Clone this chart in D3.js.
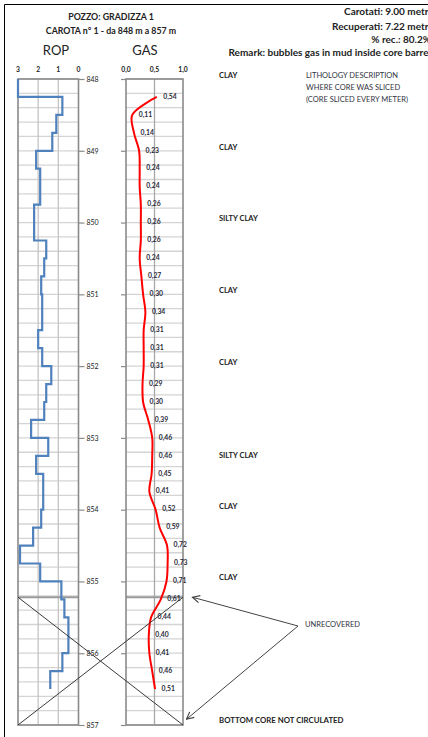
<!DOCTYPE html>
<html>
<head>
<meta charset="utf-8">
<script src="https://cdn.jsdelivr.net/npm/d3@7/dist/d3.min.js"></script>
<style>
  html, body { margin: 0; padding: 0; background: #fff; }
  svg { display: block; font-family: Lato, "Open Sans", sans-serif; }
</style>
</head>
<body>
<svg id="chart" width="428" height="737"></svg>
<script>
// Core run
const well = "GRADIZZA 1";
const coreNo = 1;
const coreTop = 848;
const coreBottom = 857;
const recovered = 7.22;

// ROP (rate of penetration): one value per 0.25 m interval starting at the listed depth
const ropDepths = [848.00, 848.25, 848.50, 848.75, 849.00, 849.25, 849.50, 849.75,
  850.00, 850.25, 850.50, 850.75, 851.00, 851.25, 851.50, 851.75,
  852.00, 852.25, 852.50, 852.75, 853.00, 853.25, 853.50, 853.75,
  854.00, 854.25, 854.50, 854.75, 855.00, 855.25, 855.50, 855.75,
  856.00, 856.25];
const ropValues = [3.0, 0.8, 1.1, 1.3, 2.1, 1.9, 1.9, 2.2,
  2.2, 1.6, 1.7, 1.85, 1.8, 1.8, 2.0, 1.8,
  1.35, 1.6, 1.7, 2.35, 1.5, 2.1, 1.75, 1.75,
  1.85, 2.25, 2.9, 1.9, 0.85, 0.7, 0.5, 0.5,
  0.8, 1.4];
const ropStep = 0.25;

// Total gas readings
const gasDepths = [848.25, 848.50, 848.75, 849.00, 849.25, 849.50, 849.75,
  850.00, 850.25, 850.50, 850.75, 851.00, 851.25, 851.50, 851.75,
  852.00, 852.25, 852.50, 852.75, 853.00, 853.25, 853.50, 853.75,
  854.00, 854.25, 854.50, 854.75, 855.00, 855.25, 855.50, 855.75,
  856.00, 856.25, 856.50];
const gasValues = [0.54, 0.11, 0.14, 0.23, 0.24, 0.24, 0.26,
  0.26, 0.26, 0.24, 0.27, 0.30, 0.34, 0.31, 0.31,
  0.31, 0.29, 0.30, 0.39, 0.46, 0.46, 0.45, 0.41,
  0.52, 0.59, 0.72, 0.73, 0.71, 0.61, 0.44, 0.40,
  0.41, 0.46, 0.51];

// Axis ticks
const ropTicks = [3, 2, 1, 0];
const gasTicks = [0, 0.5, 1];
const depthTicks = [848, 849, 850, 851, 852, 853, 854, 855, 856, 857];

// Lithology where the core was sliced
const lithoDepths = [848, 849, 850, 851, 852, 853.3, 854, 855];
const lithoNames = ["CLAY", "CLAY", "SILTY CLAY", "CLAY", "CLAY", "SILTY CLAY", "CLAY", "CLAY"];

const itLocale = d3.formatLocale({ decimal: ",", thousands: ".", grouping: [3], currency: ["", " €"] });
const fmt1 = itLocale.format(".1f");
const fmt2 = itLocale.format(".2f");
const fmtPct = d3.format(".1f");
const fmtM = d3.format(".2f");

const svg = d3.select("#chart");
const ink = "#222";

// page frame
svg.append("path").attr("d", "M4.5,737 V4.5 H428").attr("fill", "none").attr("stroke", "#000").attr("stroke-width", 1);

// scales
const y = d3.scaleLinear().domain([coreTop, coreBottom]).range([79, 725]);
const xRop = d3.scaleLinear().domain([3, 0]).range([18, 78.5]);
const xGas = d3.scaleLinear().domain([0, 1]).range([126, 183]);

const gridDepths = d3.range(0, 46).map(i => coreTop + i * 0.2);
const recBase = coreTop + recovered;

function panel(x, ticks, gridColor) {
  const g = svg.append("g");
  const [x0, x1] = x.range().slice().sort((a, b) => a - b);
  g.selectAll("line.h").data(gridDepths).join("line")
    .attr("x1", x0).attr("x2", x1)
    .attr("y1", d => y(d)).attr("y2", d => y(d))
    .attr("stroke", "#d4d4d4").attr("stroke-width", 1.3);
  g.selectAll("line.v").data(ticks.slice(1, -1)).join("line")
    .attr("x1", d => x(d)).attr("x2", d => x(d))
    .attr("y1", y(coreTop)).attr("y2", y(coreBottom))
    .attr("stroke", gridColor).attr("stroke-width", 1.3);
  // recovery boundary
  g.append("line").attr("x1", x0).attr("x2", x1)
    .attr("y1", y(recBase)).attr("y2", y(recBase))
    .attr("stroke", "#9a9a9a").attr("stroke-width", 2);
  g.append("rect").attr("x", x0).attr("y", y(coreTop))
    .attr("width", x1 - x0).attr("height", y(coreBottom) - y(coreTop))
    .attr("fill", "none").attr("stroke", "#8a8a8a").attr("stroke-width", 1.6);
  // top scale labels
  g.selectAll("text.t").data(ticks).join("text")
    .attr("x", d => x(d)).attr("y", 70)
    .attr("text-anchor", "middle").attr("dominant-baseline", "middle")
    .attr("font-size", 6.8).attr("font-weight", 700).attr("fill", ink)
    .text(d => x === xRop ? d3.format("d")(d) : fmt1(d));
  return g;
}

panel(xRop, ropTicks, "#c4c4c4");
panel(xGas, gasTicks, "#a8a8a8");

// depth axis between the two tracks
const depthAxis = d3.axisRight(y).tickValues(depthTicks).tickSize(6).tickPadding(2).tickFormat(d3.format("d"));
const ga = svg.append("g").attr("transform", "translate(78.5,0)").call(depthAxis);
ga.select(".domain").remove();
ga.selectAll(".tick line").attr("stroke", "#8a8a8a").attr("stroke-width", 1.2);
ga.selectAll(".tick text").attr("font-size", 7).attr("fill", ink).attr("font-family", "Lato, sans-serif");

const gasAxis = d3.axisLeft(y).tickValues(depthTicks).tickSize(5).tickFormat("");
const gg = svg.append("g").attr("transform", "translate(126,0)").call(gasAxis);
gg.select(".domain").remove();
gg.selectAll(".tick line").attr("stroke", "#8a8a8a").attr("stroke-width", 1.2);

// ROP step log
const ropPts = [];
ropDepths.forEach((d, i) => {
  ropPts.push([ropValues[i], d]);
  ropPts.push([ropValues[i], d + ropStep]);
});
svg.append("path")
  .datum(ropPts)
  .attr("d", d3.line().x(p => xRop(p[0])).y(p => y(p[1])))
  .attr("fill", "none").attr("stroke", "#4f81bd").attr("stroke-width", 2.2)
  .attr("stroke-linejoin", "miter");

// Gas curve
const gasPts = gasDepths.map((d, i) => [gasValues[i], d]);
svg.append("path")
  .datum(gasPts)
  .attr("d", d3.line().curve(d3.curveCatmullRom.alpha(0.5)).x(p => xGas(p[0])).y(p => y(p[1])))
  .attr("fill", "none").attr("stroke", "#ff0000").attr("stroke-width", 2);

svg.append("g").selectAll("text").data(gasPts).join("text")
  .attr("x", p => xGas(p[0]) + 6.5).attr("y", p => y(p[1]))
  .attr("dominant-baseline", "middle")
  .attr("font-size", 6.8).attr("font-weight", 700).attr("fill", "#2a2a3a")
  .text(p => fmt2(p[0]));

// unrecovered interval crossed out
const crossG = svg.append("g").attr("stroke", "#3a3a3a").attr("stroke-width", 1);
crossG.append("line").attr("x1", xRop(3)).attr("y1", y(recBase)).attr("x2", xGas(1)).attr("y2", y(coreBottom));
crossG.append("line").attr("x1", xRop(3)).attr("y1", y(coreBottom)).attr("x2", xGas(1)).attr("y2", y(recBase));

// header
const hdr = svg.append("g").attr("fill", ink).attr("text-anchor", "middle");
hdr.append("text").attr("x", 111).attr("y", 18).attr("dominant-baseline", "middle")
  .attr("font-size", 8.8).attr("font-weight", 700).text(`POZZO: ${well}`);
hdr.append("text").attr("x", 111).attr("y", 32).attr("dominant-baseline", "middle")
  .attr("font-size", 8.8).attr("font-weight", 700).text(`CAROTA n° ${coreNo} - da ${coreTop} m a ${coreBottom} m`);
hdr.append("text").attr("x", 56).attr("y", 52).attr("dominant-baseline", "middle")
  .attr("font-size", 13).text("ROP");
hdr.append("text").attr("x", 145).attr("y", 52).attr("dominant-baseline", "middle")
  .attr("font-size", 13).text("GAS");

// right-hand summary, sized so the remark line spans its column
const cored = coreBottom - coreTop;
const rhdr = svg.append("g").attr("fill", ink).attr("text-anchor", "end")
  .attr("font-size", 8.2).attr("font-weight", 700);
const remark = rhdr.append("text").attr("x", 431).attr("y", 53).attr("dominant-baseline", "middle")
  .text("Remark: bubbles gas in mud inside core barrel");
const remarkW = remark.node().getComputedTextLength();
rhdr.attr("font-size", Math.min(10, 8.2 * 220 / remarkW));
rhdr.append("text").attr("x", 431).attr("y", 12).attr("dominant-baseline", "middle").text(`Carotati: ${fmtM(cored)} metri`);
rhdr.append("text").attr("x", 431).attr("y", 27).attr("dominant-baseline", "middle").text(`Recuperati: ${fmtM(recovered)} metri`);
rhdr.append("text").attr("x", 431).attr("y", 40).attr("dominant-baseline", "middle").text(`% rec.: ${fmtPct(recovered / cored * 100)}%`);

// lithology column
svg.append("g").selectAll("text").data(lithoDepths).join("text")
  .attr("x", 219).attr("y", d => y(d) - 3)
  .attr("dominant-baseline", "middle")
  .attr("font-size", 7.5).attr("font-weight", 700).attr("fill", ink)
  .text((d, i) => lithoNames[i]);

svg.append("text").attr("x", 219).attr("y", y(coreBottom) - 4)
  .attr("dominant-baseline", "middle")
  .attr("font-size", 7.8).attr("font-weight", 700).attr("fill", ink)
  .text("BOTTOM CORE NOT CIRCULATED");

const note = svg.append("g").attr("fill", "#2f3340").attr("font-size", 7.5);
["LITHOLOGY DESCRIPTION", "WHERE CORE WAS SLICED", "(CORE SLICED EVERY METER)"].forEach((t, i) => {
  note.append("text").attr("x", 306).attr("y", 76 + i * 12).attr("dominant-baseline", "middle").text(t);
});
note.append("text").attr("x", 305).attr("y", 625).attr("dominant-baseline", "middle").text("UNRECOVERED");

// arrows to the unrecovered interval
const defs = svg.append("defs");
defs.append("marker").attr("id", "arr").attr("viewBox", "0 0 10 10")
  .attr("refX", 9).attr("refY", 5).attr("markerWidth", 9).attr("markerHeight", 9)
  .attr("markerUnits", "userSpaceOnUse").attr("orient", "auto")
  .append("path").attr("d", "M1,1 L9,5 L1,9").attr("fill", "none").attr("stroke", "#444").attr("stroke-width", 1.3);

const arrowTargets = [[recBase, 9.5], [coreBottom - 0.08, 3.5]];
arrowTargets.forEach(([d, dx]) => {
  svg.append("line").attr("x1", 298).attr("y1", 626)
    .attr("x2", xGas(1) + dx).attr("y2", y(d))
    .attr("stroke", "#444").attr("stroke-width", 1)
    .attr("marker-end", "url(#arr)");
});
</script>
</body>
</html>
